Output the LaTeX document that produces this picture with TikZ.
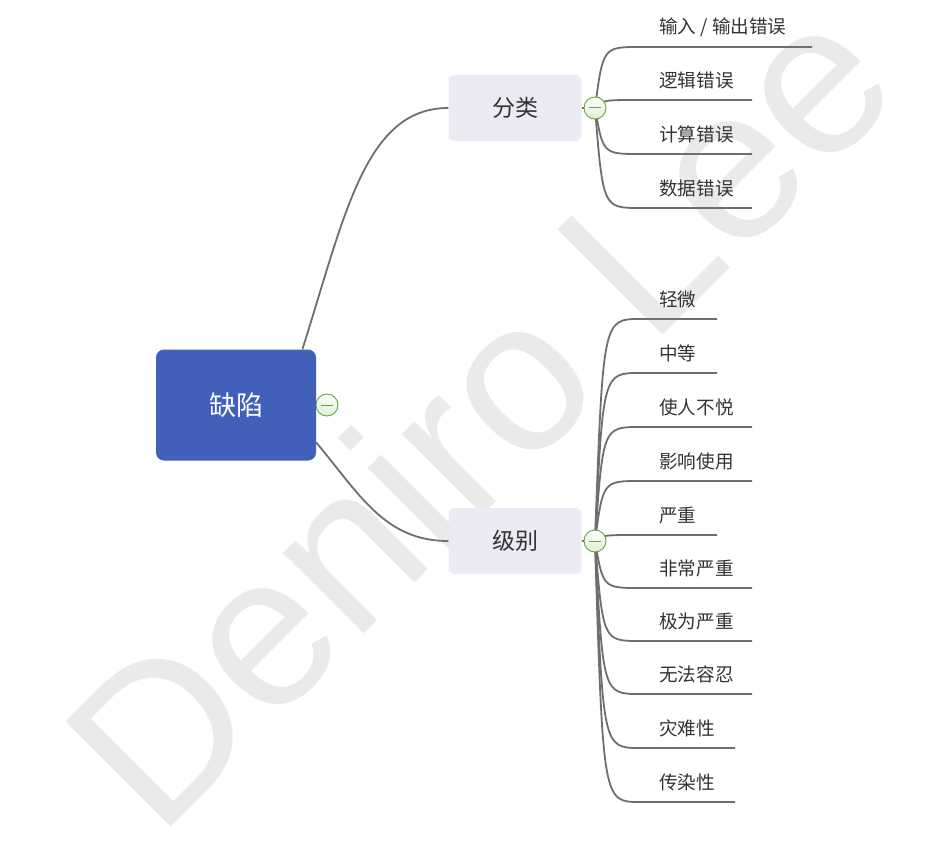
\documentclass[tikz,border=0pt]{standalone}
\usepackage{fontspec}
\usepackage{tikz}
\usetikzlibrary{positioning}
\newfontfamily\cjk{Noto Sans CJK SC}
\newfontfamily\wmfont{Liberation Sans}
\definecolor{rootblue}{HTML}{4260BA}
\definecolor{subbg}{HTML}{EBEBF3}
\definecolor{linegray}{HTML}{6E6E6E}
\definecolor{txt}{HTML}{333333}
\definecolor{tggreen}{HTML}{62A83A}
\definecolor{wmgray}{HTML}{EAEAEA}
\tikzset{
  ln/.style={linegray,line width=1.8pt},
  wm/.style={anchor=base west,rotate=45,inner sep=0pt,text=wmgray,font=\wmfont\fontsize{216}{216}\selectfont},
  rootbox/.style={fill=rootblue,rounded corners=8pt,minimum width=160pt,minimum height=111pt,text=white,font=\cjk\fontsize{27}{30}\selectfont},
  subbox/.style={fill=subbg,rounded corners=6pt,minimum width=133pt,minimum height=66pt,text=txt,font=\cjk\fontsize{23}{26}\selectfont},
  leaf/.style={anchor=west,inner sep=0pt,text=txt,font=\cjk\fontsize{18.6}{20}\selectfont},
  tg/.style={circle,draw=tggreen,line width=0.9pt,top color=white,bottom color=tggreen!20,minimum size=22pt,inner sep=0pt}
}
\newcommand{\minusbar}{\textcolor{tggreen}{\rule{12pt}{1pt}}}

\begin{document}
\begin{tikzpicture}[x=1pt,y=-1pt]
\useasboundingbox (0,0) rectangle (947,848);
\node[wm] (wmark) at (158,840) {Deniro Lee};
% main nodes
\node[rootbox] (root) at (236,405) {缺陷};
\node[subbox] (fenlei) at (515,108) {分类};
\node[subbox] (jibie) at (515,541) {级别};
\coordinate (k0) at (327,405); \coordinate (k1) at (595,108); \coordinate (k2) at (595,541);
\draw[ln] (root.40) .. controls (345,215) and (365,108) .. (fenlei.west);
\draw[ln] (root.-25) .. controls (360,495) and (385,541) .. (jibie.west);
\draw[ln] (fenlei.east) -- (k1);
\draw[ln] (jibie.east) -- (k2);
% leaves of fenlei
\node[leaf] (a1) at (659,27) {输入 / 输出错误}; \coordinate (a1e) at (812,47);
\node[leaf] (a2) at (659,80) {逻辑错误}; \coordinate (a2e) at (752,100);
\node[leaf] (a3) at (659,134) {计算错误}; \coordinate (a3e) at (752,154);
\node[leaf] (a4) at (659,188) {数据错误}; \coordinate (a4e) at (752,208);
\draw[ln] (k1) .. controls (603,47) .. (640,47) -- (a1e);
\draw[ln] (k1) .. controls (603,100) .. (640,100) -- (a2e);
\draw[ln] (k1) .. controls (603,154) .. (640,154) -- (a3e);
\draw[ln] (k1) .. controls (603,208) .. (640,208) -- (a4e);
% leaves of jibie
\node[leaf] (b1) at (659,299) {轻微}; \coordinate (b1e) at (717,319);
\node[leaf] (b2) at (659,353) {中等}; \coordinate (b2e) at (717,373);
\node[leaf] (b3) at (659,407) {使人不悦}; \coordinate (b3e) at (752,427);
\node[leaf] (b4) at (659,461) {影响使用}; \coordinate (b4e) at (752,481);
\node[leaf] (b5) at (659,515) {严重}; \coordinate (b5e) at (717,535);
\node[leaf] (b6) at (659,568) {非常严重}; \coordinate (b6e) at (752,588);
\node[leaf] (b7) at (659,621) {极为严重}; \coordinate (b7e) at (752,641);
\node[leaf] (b8) at (659,674) {无法容忍}; \coordinate (b8e) at (752,694);
\node[leaf] (b9) at (659,728) {灾难性}; \coordinate (b9e) at (735,748);
\node[leaf] (b10) at (659,782) {传染性}; \coordinate (b10e) at (735,802);
\draw[ln] (k2) .. controls (603,319) .. (640,319) -- (b1e);
\draw[ln] (k2) .. controls (603,373) .. (640,373) -- (b2e);
\draw[ln] (k2) .. controls (603,427) .. (640,427) -- (b3e);
\draw[ln] (k2) .. controls (603,481) .. (640,481) -- (b4e);
\draw[ln] (k2) .. controls (603,535) .. (640,535) -- (b5e);
\draw[ln] (k2) .. controls (603,588) .. (640,588) -- (b6e);
\draw[ln] (k2) .. controls (603,641) .. (640,641) -- (b7e);
\draw[ln] (k2) .. controls (603,694) .. (640,694) -- (b8e);
\draw[ln] (k2) .. controls (603,748) .. (640,748) -- (b9e);
\draw[ln] (k2) .. controls (603,802) .. (640,802) -- (b10e);
% collapse buttons
\node[tg] (tg0) at (k0) {\minusbar};
\node[tg] (tg1) at (k1) {\minusbar};
\node[tg] (tg2) at (k2) {\minusbar};
\end{tikzpicture}
\end{document}
